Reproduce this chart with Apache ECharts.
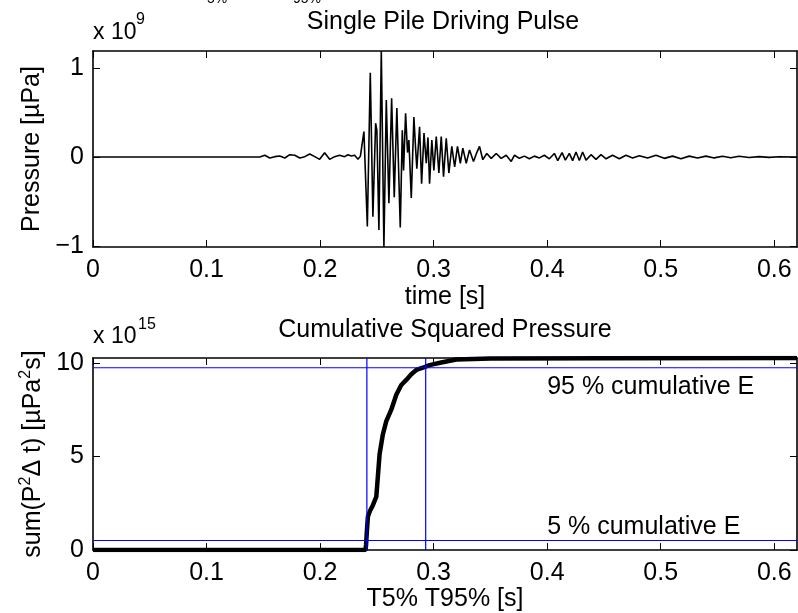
<!DOCTYPE html>
<html>
<head>
<meta charset="utf-8">
<script src="https://cdn.jsdelivr.net/npm/echarts@6/dist/echarts.min.js"></script>
<style>html,body{margin:0;padding:0;background:#fff;}#c{width:798px;height:613px;}</style>
</head>
<body>
<div id="c"></div>
<script>
// ---- data (pressure in units of 1e9 µPa, cumulative in units of 1e15 µPa²s) ----
const pulseTime = [0,0.1469,0.1513,0.1557,0.1601,0.1645,0.1689,0.1733,0.1777,0.1821,0.1865,0.1909,0.1953,0.1996,0.2040,0.2084,0.2128,0.2172,0.2216,0.2245,0.2275,0.2304,0.2334,0.2355,0.2372,
  0.2386,0.2416,0.2442,0.2465,0.2489,0.2500,0.2518,0.2539,0.2562,0.2583,0.2606,0.2630,0.2653,0.2676,0.2706,0.2724,0.2735,0.2753,0.2770,0.2782,0.2803,0.2826,0.2840,0.2852,
  0.2876,0.2894,0.2915,0.2935,0.2950,0.2964,0.2984,0.3002,0.3023,0.3046,0.3067,0.3087,0.3111,0.3134,0.3160,0.3185,0.3210,0.3235,0.3257,0.3287,0.3316,0.3351,0.3380,0.3404,
  0.3433,0.3468,0.3507,0.3551,0.3595,0.3639,0.3683,0.3712,0.3755,0.3799,0.3843,0.3887,0.3931,0.3975,0.4019,0.4063,0.4093,0.4131,0.4160,0.4195,0.4224,0.4254,0.4283,0.4312,
  0.4342,0.4386,0.4430,0.4474,0.4518,0.4576,0.4635,0.4694,0.4752,0.4811,0.4884,0.4958,0.5031,0.5104,0.5178,0.5251,0.5324,0.5398,0.5471,0.5544,0.5617,0.5690,0.5778,0.5866,
  0.5954,0.6042,0.6200];
const pulseValue = [0,0,0.019,-0.011,0.004,0.011,-0.011,0.026,0.019,-0.011,0.004,0.034,0.004,-0.026,0.049,-0.026,0.004,0.019,0.004,0.026,0.011,0.019,-0.026,0.010,0,
  0.285,-0.78,0.947,-0.67,0.38,0.30,-0.82,1.19,-1.01,0.64,-0.52,0.66,-0.45,0.55,-0.79,0.30,-0.15,0.49,0.05,0.19,-0.46,0.45,0.12,-0.13,
  0.34,-0.30,0.27,-0.07,0.22,-0.30,0.19,-0.15,0.23,-0.18,0.23,-0.22,0.21,-0.18,0.12,-0.11,0.12,-0.07,0.10,-0.07,0.08,-0.05,0.05,0.12,
  -0.03,0.04,-0.015,0.04,-0.015,0.02,-0.05,0.02,-0.015,0.01,-0.02,0.01,-0.01,0.02,-0.02,0.04,-0.04,0.05,-0.035,0.04,-0.04,0.056,-0.04,0.056,
  -0.035,0.026,-0.026,0.026,-0.02,0.02,-0.02,0.02,-0.01,0.015,-0.01,0.02,-0.015,0.01,-0.02,0.01,-0.01,0.01,-0.01,0.008,-0.008,0.008,-0.005,0.004,
  -0.004,0.003,0];
const cumTime = [0,0.2400,0.2405,0.2412,0.2421,0.2440,0.2465,0.2495,0.2524,0.2553,0.2583,0.2627,0.2671,0.2715,0.2759,0.2803,0.2847,0.2905,0.2964,0.3067,0.3200,0.3500,0.4500,0.6200];
const cumValue = [0,0,0.3,1.0,1.79,2.1,2.4,2.85,5.13,6.19,6.89,7.5,8.3,8.82,9.09,9.39,9.62,9.74,9.88,10.02,10.18,10.23,10.25,10.26];
const xTicks = [0,0.1,0.2,0.3,0.4,0.5,0.6];
const pulseYTicks = [-1,0,1];
const cumYTicks = [0,5,10];
const thresholdTimes = [0.2412,0.293];       // T5%, T95%
const thresholdEnergies = [0.513,9.74];      // 5 %, 95 % of total
const annotationX = [0.4,0.4];
const annotationY = [8.72,1.23];
const annotationText = ['95 % cumulative E','5 % cumulative E'];

const X_MAX = 0.62, P_MIN = -1.01, P_MAX = 1.19, E_MAX = 10.26;
const FONT = "'Liberation Sans', Arial, Helvetica, sans-serif";
const FS = 25;

const fmtNum = v => (v < 0 ? '\u2212' + Math.abs(v) : String(v));

function xAx(grid, pos, show, name, gap) {
  return {
    type: 'value', gridIndex: grid, position: pos, min: 0, max: X_MAX,
    axisLine: { show: true, onZero: false, lineStyle: { color: '#000', width: 1.6 } },
    axisTick: { show: true, inside: true, length: 7, customValues: xTicks, lineStyle: { color: '#000', width: 1 } },
    axisLabel: { show: show, customValues: xTicks, formatter: fmtNum, color: '#000', fontSize: FS, fontFamily: FONT, margin: 11 },
    splitLine: { show: false },
    name: name || '', nameLocation: 'middle', nameGap: gap || 0,
    nameTextStyle: { color: '#000', fontSize: FS, fontFamily: FONT }
  };
}
function yAx(grid, pos, show, min, max, ticks, name, gap) {
  return {
    type: 'value', gridIndex: grid, position: pos, min: min, max: max,
    axisLine: { show: true, onZero: false, lineStyle: { color: '#000', width: 1.6 } },
    axisTick: { show: true, inside: true, length: 7, customValues: ticks, lineStyle: { color: '#000', width: 1 } },
    axisLabel: { show: show, customValues: ticks, formatter: fmtNum, color: '#000', fontSize: FS, fontFamily: FONT, margin: 9 },
    splitLine: { show: false },
    name: name || '', nameLocation: 'middle', nameGap: gap || 0,
    nameTextStyle: {
      color: '#000', fontSize: FS, fontFamily: FONT,
      rich: {
        n: { fontSize: FS, fontFamily: FONT, color: '#000', lineHeight: 30 },
        s: { fontSize: 16, fontFamily: FONT, color: '#000', lineHeight: 16, verticalAlign: 'top' }
      }
    }
  };
}

const chart = echarts.init(document.getElementById('c'), null, { renderer: 'canvas' });
const blue = '#0000ff';
const option = {
  animation: false,
  backgroundColor: '#fff',
  grid: [
    { left: 93, top: 51, width: 704, height: 196 },
    { left: 93, top: 358, width: 704, height: 195 }
  ],
  xAxis: [
    xAx(0, 'bottom', true, 'time [s]', 38),
    xAx(0, 'top', false),
    xAx(1, 'bottom', true, 'T5% T95% [s]', 34),
    xAx(1, 'top', false)
  ],
  yAxis: [
    yAx(0, 'left', true, P_MIN, P_MAX, pulseYTicks, 'Pressure [µPa]', 42),
    yAx(0, 'right', false, P_MIN, P_MAX, pulseYTicks),
    yAx(1, 'left', true, 0, E_MAX, cumYTicks, '{n|sum(P}{s|2}{n|\u0394 t) [µPa}{s|2}{n|s]}', 44),
    yAx(1, 'right', false, 0, E_MAX, cumYTicks)
  ],
  series: [
    {
      type: 'line', xAxisIndex: 0, yAxisIndex: 0, showSymbol: false, symbol: 'none',
      data: pulseTime.map((t, i) => [t, pulseValue[i]]),
      lineStyle: { color: '#000', width: 1.6 }, z: 3
    },
    ...thresholdEnergies.map(e => ({
      type: 'line', xAxisIndex: 2, yAxisIndex: 2, symbol: 'none',
      data: [[0, e], [X_MAX, e]], lineStyle: { color: blue, width: 1.2 }, z: 4
    })),
    ...thresholdTimes.map(t => ({
      type: 'line', xAxisIndex: 2, yAxisIndex: 2, symbol: 'none',
      data: [[t, 0], [t, E_MAX]], lineStyle: { color: blue, width: 1.2 }, z: 4
    })),
    {
      type: 'line', xAxisIndex: 2, yAxisIndex: 2, symbol: 'none',
      data: cumTime.map((t, i) => [t, cumValue[i]]),
      lineStyle: { color: '#000', width: 4.5 }, z: 3
    },
    {
      type: 'scatter', xAxisIndex: 2, yAxisIndex: 2, symbolSize: 0,
      itemStyle: { opacity: 1, color: '#000' },
      data: annotationX.map((x, i) => ({ value: [x, annotationY[i]], name: annotationText[i] })),
      label: { show: true, position: 'right', distance: 0, formatter: p => p.name, color: '#000', opacity: 1, fontSize: FS, fontFamily: FONT, verticalAlign: 'middle' },
      silent: true, z: 5
    }
  ],
  graphic: [
    { type: 'text', x: 443, y: 22, style: { text: 'Single Pile Driving Pulse', fill: '#000', font: FS + 'px ' + FONT, align: 'center', verticalAlign: 'middle' } },
    { type: 'text', x: 445, y: 330, style: { text: 'Cumulative Squared Pressure', fill: '#000', font: FS + 'px ' + FONT, align: 'center', verticalAlign: 'middle' } },
    { type: 'text', x: 93, y: 33, style: { text: 'x 10', fill: '#000', font: '23px ' + FONT, align: 'left', verticalAlign: 'middle' } },
    { type: 'text', x: 136, y: 20, style: { text: '9', fill: '#000', font: '16px ' + FONT, align: 'left', verticalAlign: 'middle' } },
    { type: 'text', x: 93, y: 337, style: { text: 'x 10', fill: '#000', font: '23px ' + FONT, align: 'left', verticalAlign: 'middle' } },
    { type: 'text', x: 138, y: 325, style: { text: '15', fill: '#000', font: '16px ' + FONT, align: 'left', verticalAlign: 'middle' } },
    { type: 'text', x: 207, y: 6, style: { text: '5%', fill: '#000', font: '14px ' + FONT, align: 'left', verticalAlign: 'bottom' } },
    { type: 'text', x: 293, y: 6, style: { text: '95%', fill: '#000', font: '14px ' + FONT, align: 'left', verticalAlign: 'bottom' } }
  ]
};
chart.setOption(option);
</script>
</body>
</html>
